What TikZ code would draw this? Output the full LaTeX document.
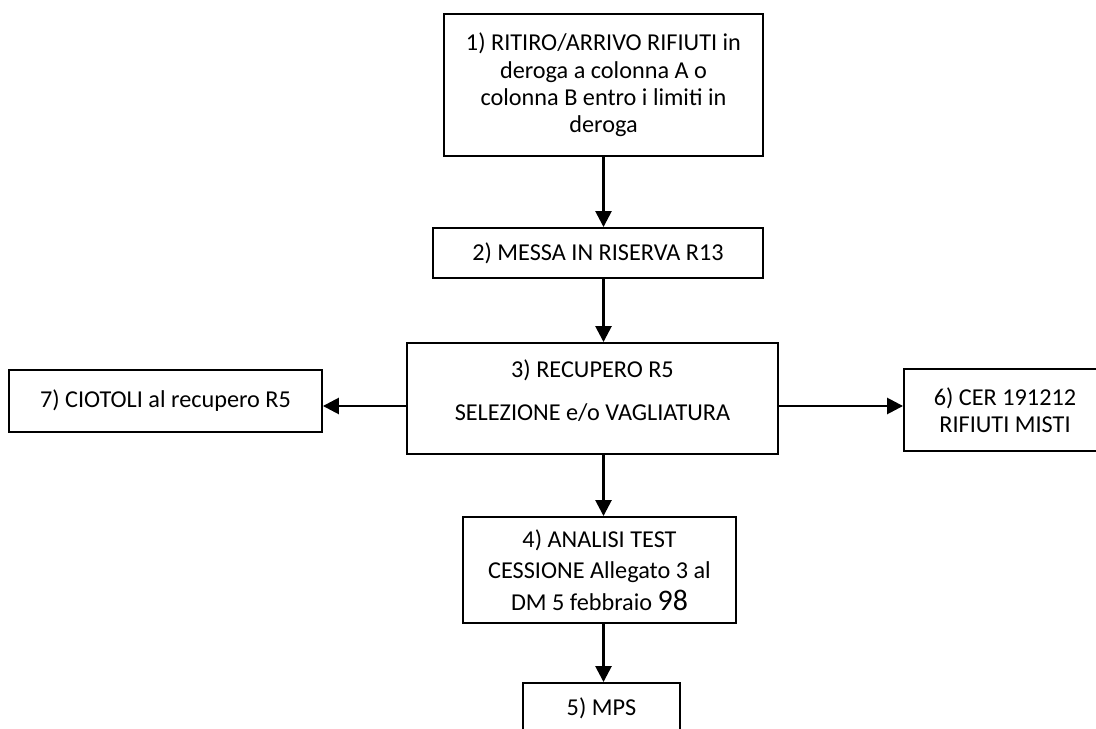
\documentclass[tikz,border=0pt]{standalone}
\usepackage{fontspec}
\usepackage{tikz}
\usepackage[rgb]{xcolor}
\usetikzlibrary{arrows.meta}
\setmainfont{Carlito}

\tikzset{
	box/.style={draw=black,line width=1.1pt,inner sep=0pt,align=center,font=\fontsize{13.8}{15.5}\selectfont},
	arr/.style={line width=1.5pt,-{Triangle[length=0.32cm,width=0.32cm]}}
}

\begin{document}
\begin{tikzpicture}[x=0.02cm,y=-0.02cm]
	\useasboundingbox (0,0) rectangle (1096,729);
	\clip (0,0) rectangle (1096,729);
	\node[box,minimum width=6.38cm,minimum height=2.84cm] (ritiro) at (603.5,85) {1) RITIRO/ARRIVO RIFIUTI in\\deroga a colonna A o\\colonna B entro i limiti in\\deroga};
	\node[box,minimum width=6.6cm,minimum height=1.0cm] (riserva) at (598,253) {2) MESSA IN RISERVA R13};
	\node[box,minimum width=7.42cm,minimum height=2.22cm] (recupero) at (592.5,398.5) {3) RECUPERO R5\\[9pt]\rule[-9pt]{0pt}{0pt}SELEZIONE e/o VAGLIATURA};
	\node[box,minimum width=6.26cm,minimum height=1.24cm] (ciotoli) at (165.5,401) {7) CIOTOLI al recupero R5};
	\node[box,minimum width=4.04cm,minimum height=1.64cm] (cer) at (1005,410) {6) CER 191212\\RIFIUTI MISTI};
	\node[box,minimum width=5.46cm,minimum height=2.12cm,font=\fontsize{13.8}{18}\selectfont] (analisi) at (599.5,570) {4) ANALISI TEST\\CESSIONE Allegato 3 al\\DM 5 febbraio {\fontsize{17}{18}\selectfont 98}};
	\node[box,minimum width=3.14cm,minimum height=1.0cm] (mps) at (601.5,708) {5) MPS};

	\draw[arr] (ritiro.south) -- (ritiro.south |- riserva.north);
	\draw[arr] (riserva.south -| ritiro) -- (recupero.north -| ritiro);
	\draw[arr] (recupero.south -| ritiro) -- (analisi.north -| ritiro);
	\draw[arr] (analisi.south -| ritiro) -- (mps.north -| ritiro);
	\draw[arr] ([yshift=-0.15cm]recupero.west) -- ([yshift=-0.15cm]recupero.west -| ciotoli.east);
	\draw[arr] ([yshift=-0.15cm]recupero.east) -- ([yshift=-0.15cm]recupero.east -| cer.west);

\end{tikzpicture}
\end{document}
